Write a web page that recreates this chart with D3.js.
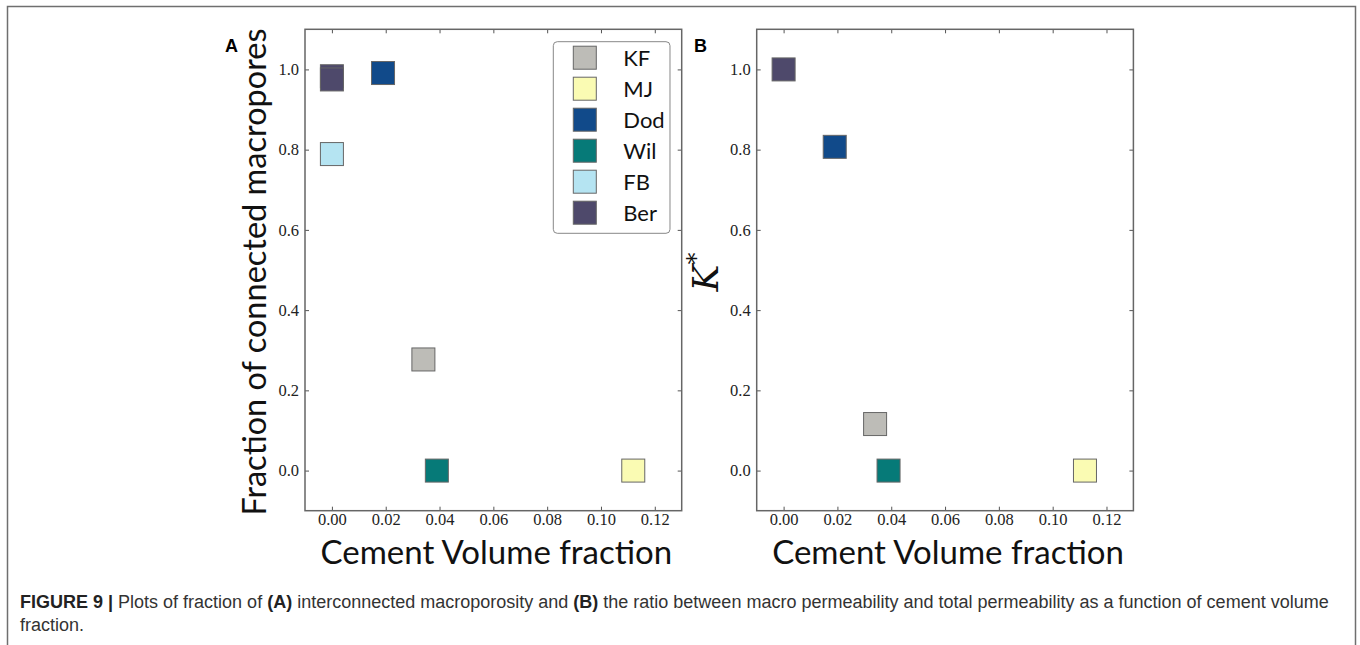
<!DOCTYPE html>
<html>
<head>
<meta charset="utf-8">
<script src="https://cdn.jsdelivr.net/npm/d3@7"></script>
<style>
  body { margin: 0; background: #fff; }
  svg { display: block; }
</style>
</head>
<body>
<script>
// samples shown in the legend
const samples = ["KF", "MJ", "Dod", "Wil", "FB", "Ber"]
const sampleColors = ["#bdbcb7", "#fafbb3", "#114a8a", "#067a78", "#b5e4f2", "#4e496b"]

// panel A: fraction of connected macropores
const panelASample = ["KF", "MJ", "Dod", "Wil", "FB", "Ber", "Ber"]
const panelACement = [0.034, 0.112, 0.019, 0.039, 0.000, 0.000, 0.000]
const panelAConnected = [0.277, 0.0, 0.991, 0.0, 0.789, 0.983, 0.975]

// panel B: K*
const panelBSample = ["KF", "MJ", "Dod", "Wil", "Ber"]
const panelBCement = [0.034, 0.112, 0.019, 0.039, 0.000]
const panelBKstar = [0.116, 0.0, 0.807, 0.0, 1.0]

const xTicks = [0, 0.02, 0.04, 0.06, 0.08, 0.10, 0.12]
const yTicks = [0, 0.2, 0.4, 0.6, 0.8, 1.0]

const width = 1360, height = 645
const svg = d3.select("body").append("svg")
  .attr("width", width).attr("height", height)

svg.append("rect").attr("width", width).attr("height", height).attr("fill", "#fff")
// figure frame
svg.append("rect")
  .attr("x", 7.5).attr("y", 6.5).attr("width", 1348).attr("height", 660)
  .attr("fill", "none").attr("stroke", "#6f6f6f").attr("stroke-width", 1.5)

const color = d3.scaleOrdinal().domain(samples).range(sampleColors)
const plotW = 376.7, plotH = 481.4, plotTop = 29.3
const markerSize = 23

function drawPanel(left, xs, ys, names) {
  var x = d3.scaleLinear().domain([-0.01, 0.13]).range([0, plotW])
  var y = d3.scaleLinear().domain([-0.1, 1.1]).range([plotH, 0])

  var g = svg.append("g").attr("transform", "translate(" + left + "," + plotTop + ")")

  var tickCol = "#555"
  g.append("g").attr("class", "axis")
    .call(d3.axisLeft(y).tickValues(yTicks).tickFormat(d3.format(".1f")).tickSize(-4).tickPadding(6))
  g.append("g").attr("class", "axis")
    .attr("transform", "translate(" + plotW + ",0)")
    .call(d3.axisRight(y).tickValues(yTicks).tickFormat("").tickSize(-4))
  g.append("g").attr("class", "axis")
    .attr("transform", "translate(0," + plotH + ")")
    .call(d3.axisBottom(x).tickValues(xTicks).tickFormat(d3.format(".2f")).tickSize(-4).tickPadding(3))
  g.append("g").attr("class", "axis")
    .call(d3.axisTop(x).tickValues(xTicks).tickFormat("").tickSize(-4))

  g.selectAll(".axis .domain").remove()
  g.selectAll(".axis line").attr("stroke", tickCol)
  g.selectAll(".axis text")
    .attr("font-family", "'Liberation Serif', serif")
    .attr("font-size", 16.5).attr("fill", "#222")

  g.append("rect").attr("width", plotW).attr("height", plotH)
    .attr("fill", "none").attr("stroke", "#666").attr("stroke-width", 1.5)

  var pts = xs.map(function (d, i) { return { x: d, y: ys[i], name: names[i] } })
  g.selectAll("rect.pt").data(pts).enter()
    .append("rect").attr("class", "pt")
    .attr("x", function (d) { return x(d.x) - markerSize / 2 })
    .attr("y", function (d) { return y(d.y) - markerSize / 2 })
    .attr("width", markerSize).attr("height", markerSize)
    .attr("fill", function (d) { return color(d.name) })
    .attr("stroke", "#666").attr("stroke-width", 1)

  g.append("text")
    .attr("x", plotW / 2 + 3).attr("y", plotH + 53)
    .attr("text-anchor", "middle")
    .attr("font-family", "Lato, sans-serif").attr("font-size", 33)
    .attr("fill", "#111")
    .text("Cement Volume fraction")
  return g
}

var gA = drawPanel(305, panelACement, panelAConnected, panelASample)
var gB = drawPanel(756.7, panelBCement, panelBKstar, panelBSample)

// y labels
svg.append("text")
  .attr("transform", "translate(266,272) rotate(-90)")
  .attr("text-anchor", "middle")
  .attr("font-family", "Lato, sans-serif").attr("font-size", 32.5)
  .attr("fill", "#111")
  .text("Fraction of connected macropores")

var kl = svg.append("text")
  .attr("transform", "translate(718,272) rotate(-90)")
  .attr("text-anchor", "middle")
  .attr("font-family", "'DejaVu Serif', serif").attr("font-size", 36)
  .attr("fill", "#111")
kl.append("tspan").attr("font-style", "italic").text("K")
kl.append("tspan").attr("font-size", 24).attr("dy", -14).text("*")

// panel letters
svg.append("text").attr("x", 225).attr("y", 52)
  .attr("font-family", "'Liberation Sans', Arial, sans-serif").attr("font-weight", "bold")
  .attr("font-size", 18).text("A")
svg.append("text").attr("x", 694).attr("y", 52)
  .attr("font-family", "'Liberation Sans', Arial, sans-serif").attr("font-weight", "bold")
  .attr("font-size", 18).text("B")

// legend
var leg = svg.append("g").attr("transform", "translate(553.3,41.7)")
leg.append("rect").attr("width", 116.7).attr("height", 191.6).attr("rx", 4)
  .attr("fill", "#fff").attr("stroke", "#888").attr("stroke-width", 1)
var items = leg.selectAll("g.item").data(samples).enter()
  .append("g").attr("class", "item")
  .attr("transform", function (d, i) { return "translate(0," + (16 + i * 31) + ")" })
items.append("rect").attr("x", 20).attr("y", -markerSize / 2)
  .attr("width", markerSize).attr("height", markerSize)
  .attr("fill", function (d) { return color(d) })
  .attr("stroke", "#666").attr("stroke-width", 1)
items.append("text").attr("x", 70).attr("y", 8)
  .attr("font-family", "Lato, sans-serif").attr("font-size", 22).attr("fill", "#111")
  .text(function (d) { return d })

// caption
var cap = svg.append("g")
  .attr("font-family", "'Liberation Sans', Arial, sans-serif").attr("font-size", 18)
  .attr("fill", "#333")
var l1 = cap.append("text").attr("x", 20).attr("y", 608)
l1.append("tspan").attr("font-weight", "bold").attr("fill", "#222").text("FIGURE 9 | ")
l1.append("tspan").text("Plots of fraction of ")
l1.append("tspan").attr("font-weight", "bold").attr("fill", "#222").text("(A)")
l1.append("tspan").text(" interconnected macroporosity and ")
l1.append("tspan").attr("font-weight", "bold").attr("fill", "#222").text("(B)")
l1.append("tspan").text(" the ratio between macro permeability and total permeability as a function of cement volume")
cap.append("text").attr("x", 20).attr("y", 631).text("fraction.")
</script>
</body>
</html>
